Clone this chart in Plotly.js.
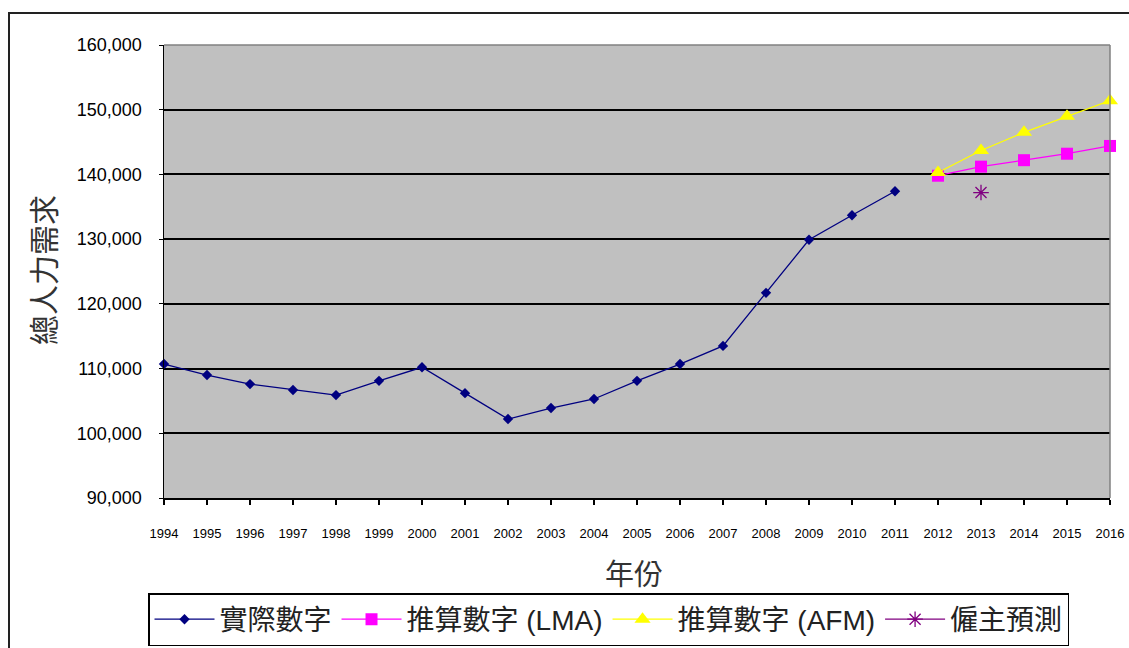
<!DOCTYPE html>
<html>
<head>
<meta charset="utf-8">
<script src="https://cdn.plot.ly/plotly-3.0.1.min.js"></script>
<style>html,body{margin:0;padding:0;background:#fff;}#chart{width:1129px;height:648px;}</style>
</head>
<body>
<div id="chart"></div>
<script>
const years = ['1994','1995','1996','1997','1998','1999','2000','2001','2002','2003','2004','2005','2006','2007','2008','2009','2010','2011','2012','2013','2014','2015','2016'];
const actualYears = years.slice(0, 18);
const actualValues = [110700,109000,107600,106700,105900,108100,110200,106200,102200,103900,105300,108100,110700,113500,121700,129900,133700,137400];
const forecastYears = ['2012','2013','2014','2015','2016'];
const lmaValues = [139800,141200,142200,143200,144400];
const afmValues = [140300,143700,146500,149000,151400];
const employerYears = ['2013'];
const employerValues = [137200];
const yTicks = [90000,100000,110000,120000,130000,140000,150000,160000];
const yTickText = ['90,000','100,000','110,000','120,000','130,000','140,000','150,000','160,000'];

const names = ['實際數字','推算數字 (LMA)','推算數字 (AFM)','僱主預測'];

const traces = [
  {x: actualYears, y: actualValues, name: names[0], type:'scatter', mode:'lines+markers',
   line:{color:'#000080', width:1.3}, marker:{symbol:'diamond', size:8, color:'#000080'}, cliponaxis:false},
  {x: forecastYears, y: lmaValues, name: names[1], type:'scatter', mode:'lines+markers',
   line:{color:'#ff00ff', width:1.3}, marker:{symbol:'square', size:12, color:'#ff00ff'}, cliponaxis:false},
  {x: forecastYears, y: afmValues, name: names[2], type:'scatter', mode:'lines+markers',
   line:{color:'#ffff00', width:1.3}, marker:{symbol:'triangle-up', size:14, color:'#ffff00'}, cliponaxis:false},
  {x: employerYears, y: employerValues, name: names[3], type:'scatter', mode:'lines+markers',
   line:{color:'#800080', width:1.3}, marker:{symbol:'asterisk-open', size:13, color:'#800080', line:{color:'#800080', width:1.3}}, cliponaxis:false}
];

const L = 164, R = 1110, T = 45, B = 498;
const W = R - L, H = B - T;
const px = v => (v - L) / W;
const py = v => (B - v) / H;

const layout = {
  width: 1129, height: 648,
  margin: {l: L, r: 1129 - R, t: T, b: 648 - B, autoexpand: false},
  paper_bgcolor: '#ffffff',
  plot_bgcolor: '#c0c0c0',
  showlegend: true,
  font: {family: 'Liberation Sans, Arial, Noto Sans CJK TC', color: '#000'},
  xaxis: {
    type: 'category', categoryorder: 'array', categoryarray: years,
    range: [0, years.length - 1], tickvals: years, ticktext: years,
    showgrid: false, zeroline: false,
    showline: true, linecolor: '#000', linewidth: 1.5,
    ticks: 'outside', ticklen: 5, tickcolor: '#000', tickwidth: 1.5,
    ticklabelstandoff: 18,
    tickfont: {size: 13, family: 'Liberation Sans, Arial', color: '#000'}
  },
  yaxis: {
    range: [90000, 160000], tickvals: yTicks, ticktext: yTickText,
    showgrid: true, gridcolor: '#000', gridwidth: 2,
    zeroline: false,
    showline: true, linecolor: '#000', linewidth: 1.5,
    ticks: 'outside', ticklen: 4, tickcolor: '#000',
    ticklabelstandoff: 13,
    tickfont: {size: 18, family: 'Liberation Sans, Arial', color: '#000'}
  },
  legend: {
    orientation: 'h', x: px(148), y: py(593), xanchor: 'left', yanchor: 'top',
    bordercolor: '#000', borderwidth: 1.5, bgcolor: '#fff',
    font: {size: 28, family: 'Liberation Sans, Arial, Noto Sans CJK TC', color: '#222'},
    itemwidth: 60, tracegroupgap: 0
  },
  annotations: [
    {text: '年份', xref:'paper', yref:'paper', x: px(634), y: py(572), xanchor:'center', yanchor:'middle',
     showarrow:false, font:{size: 29, family:'Noto Sans CJK TC', color:'#333'}},
    {text: '總人力需求', xref:'paper', yref:'paper', x: px(42), y: py(270), xanchor:'center', yanchor:'middle',
     textangle: -90, showarrow:false, font:{size: 30, family:'Noto Sans CJK TC', color:'#333'}}
  ],
  shapes: [
    {type:'line', xref:'paper', yref:'paper', x0:0, x1:1, y0:1, y1:1, line:{color:'#808080', width:1.5}},
    {type:'line', xref:'paper', yref:'paper', x0:1, x1:1, y0:0, y1:1, line:{color:'#808080', width:1.5}},
    {type:'rect', xref:'paper', yref:'paper', x0: px(9), x1: px(1140), y0: py(660), y1: py(13), line:{color:'#222', width:2}, layer:'below'}
  ]
};

Plotly.newPlot('chart', traces, layout, {displayModeBar: false, staticPlot: true});
</script>
</body>
</html>
